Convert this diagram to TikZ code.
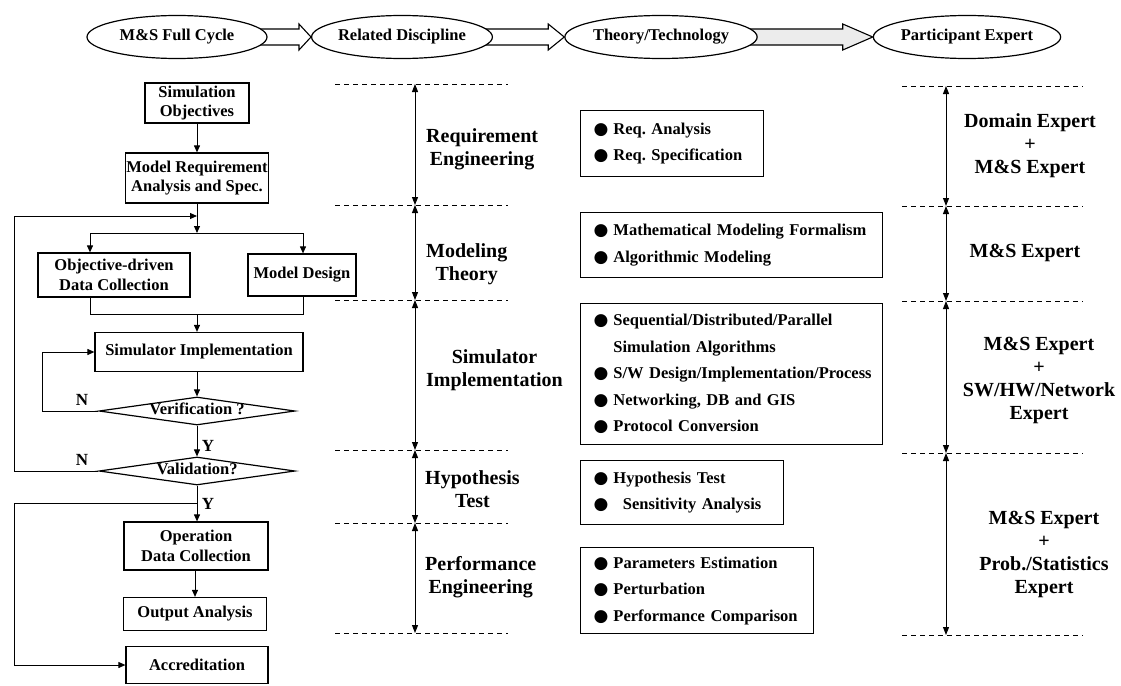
\documentclass[tikz,border=0pt]{standalone}
\usepackage{fontspec}
\setmainfont{Liberation Serif}
\newfontfamily\dotfont{DejaVu Sans}
\usepackage{tikz}
\usetikzlibrary{arrows.meta, positioning, shapes.geometric, calc, backgrounds}
\newcommand{\sfnt}{\fontsize{16.5}{19.5}\selectfont\bfseries}
\newcommand{\lfnt}{\fontsize{20}{23}\selectfont\bfseries}
\newcommand{\listfnt}{\fontsize{16.5}{26.5}\selectfont\bfseries\hyphenpenalty=10000\relax}
\newcommand{\bitem}{{\dotfont\fontsize{17}{17}\selectfont ●}\nobreak\hspace{5pt}}
\newcommand{\bskip}{\phantom{\bitem}}
\frenchspacing

\begin{document}
\begin{tikzpicture}[x=1pt, y=-1pt,
    phase/.style={draw, ellipse, line width=1.2pt, fill=white, minimum height=43pt,
                  inner sep=0pt, font=\sfnt},
    fat/.style={draw, line width=1.1pt, fill=white},
    box/.style={draw, line width=1.2pt, align=center, inner sep=1pt, font=\sfnt},
    test/.style={draw, diamond, aspect=7, line width=1.2pt, inner sep=0pt,
                 text height=7pt, text depth=0pt, minimum width=196pt,
                 minimum height=28pt, font=\sfnt},
    flow/.style={line width=1pt, -{Triangle[length=7pt,width=6pt]}},
    link/.style={line width=1pt},
    yn/.style={font=\fontsize{17}{17}\selectfont\bfseries, inner sep=1pt},
    sep/.style={line width=1pt, dash pattern=on 5pt off 4pt},
    span/.style={line width=1pt, {Triangle[length=8pt,width=6pt]}-{Triangle[length=8pt,width=6pt]}},
    area/.style={font=\lfnt, align=center, inner sep=0pt},
    list/.style={draw, line width=1.2pt, anchor=north west, align=left, inner xsep=13pt,
                 inner ysep=0pt, font=\listfnt}
]
\useasboundingbox (0,0) rectangle (1121,685);

% headline
\node[phase, minimum width=180pt] (hcyc) at (177,37) {M\&S Full Cycle};
\node[phase, minimum width=177pt] (hdis) at (402,37) {Related Discipline};
\node[phase, minimum width=178pt] (htech) at (661,37) {Theory/Technology};
\node[phase, minimum width=187pt] (hexp) at (967,37) {Participant Expert};

\begin{scope}[on background layer]
\foreach \a/\b/\l/\c in {hcyc/hdis/12/white, hdis/htech/16/white, htech/hexp/30/gray!15}
  \draw[fat, fill=\c] ($(\a.east)+(-8,-8)$) -- ($(\b.west)+(-\l,-8)$) -- ($(\b.west)+(-\l,-13)$)
     -- (\b.west) -- ($(\b.west)+(-\l,13)$) -- ($(\b.west)+(-\l,8)$) -- ($(\a.east)+(-8,8)$) -- cycle;
\end{scope}

% M&S full cycle
\node[box, minimum width=104pt, minimum height=40pt] (simobj) at (197,103) {Simulation\\Objectives};
\node[box, minimum width=141pt, minimum height=50pt] (modreq) at (197,178) {Model Requirement\\Analysis and Spec.};
\node[box, minimum width=152pt, minimum height=44pt] (datcol) at (114,275) {Objective-driven\\Data Collection};
\node[box, minimum width=108pt, minimum height=42pt] (moddes) at (302,275) {Model Design};
\node[box, minimum width=208pt, minimum height=39pt] (simimp) at (199,352) {Simulator Implementation};
\node[test] (verif) at (197,411) {Verification ?};
\node[test] (valid) at (197,471) {Validation?};
\node[box, minimum width=144pt, minimum height=48pt] (opdata) at (196,546) {Operation\\Data Collection};
\node[box, minimum width=143pt, minimum height=33pt] (outana) at (195,614) {Output Analysis};
\node[box, minimum width=142pt, minimum height=37pt] (accred) at (197,665) {Accreditation};

\coordinate (join) at (197,216);
\coordinate (fork) at (197,233);
\coordinate (forkl) at (90,233);
\coordinate (forkr) at (303,233);
\coordinate (mrgl) at (90,314);
\coordinate (mrgr) at (303,314);
\coordinate (mrg) at (197,314);
\coordinate (loopv) at (42,0);
\coordinate (loopo) at (14,0);
\coordinate (pass) at (197,503);

\draw[flow] (simobj) -- (modreq);
\draw[link] (modreq.south -| join) -- (join);
\draw[flow] (join) -- (fork);
\draw[link] (forkl) -- (forkr);
\draw[flow] (forkl) -- (forkl |- datcol.north);
\draw[flow] (forkr) -- (forkr |- moddes.north);
\draw[link] (datcol.south -| mrgl) -- (mrgl) -- (mrgr) -- (moddes.south -| mrgr);
\draw[flow] (mrg) -- (mrg |- simimp.north);
\draw[flow] (simimp.south -| verif) -- (verif);
\draw[flow] (verif.west) -- (verif.west -| loopv) |- (simimp.west);
\node[yn] at (82,400) {N};
\draw[flow] (verif) -- (valid);
\node[yn] at (208,446) {Y};
\draw[flow] (valid.west) -- (valid.west -| loopo) |- (join);
\node[yn] at (82,460) {N};
\draw[flow] (valid) -- (valid |- opdata.north);
\draw[flow] (pass) -- (pass -| loopo) |- (accred.west);
\node[yn] at (208,504) {Y};
\draw[flow] (opdata.south -| outana) -- (outana);

% related discipline
\foreach \y [count=\i] in {84,205,300,450,523,633} {
  \draw[sep] (335,\y) -- (508,\y);
  \coordinate (d\i) at (415,\y);
}
\foreach \a/\b in {1/2, 2/3, 3/4, 4/5, 5/6}
  \draw[span] (d\a) -- (d\b);

\node[area, anchor=west] (dreq) at (426,149) {Requirement\\Engineering};
\node[area, anchor=west] (dmod) at (426,264) {Modeling\\Theory};
\node[area, anchor=west] (dsim) at (426,370) {Simulator\\Implementation};
\node[area, anchor=west] (dhyp) at (425,489) {Hypothesis\\Test};
\node[area, anchor=west] (dperf) at (425,577) {Performance\\Engineering};

% theory / technology
\node[list, text width=157pt, minimum height=66pt] (lreq) at (580,110)
  {\bitem Req. Analysis\\\bitem Req. Specification};
\node[list, text width=276pt, minimum height=65pt] (lmod) at (580,212)
  {\bitem Mathematical Modeling Formalism\\\bitem Algorithmic Modeling};
\node[list, text width=276pt, minimum height=141pt] (lsim) at (580,303)
  {\bitem Sequential/Distributed/Parallel\\\bskip Simulation Algorithms\\
   \mbox{\bitem S/W Design/Implementation/Process}\\\bitem Networking, DB and GIS\\
   \bitem Protocol Conversion};
\node[list, text width=177pt, minimum height=64pt] (lhyp) at (580,460)
  {\bitem Hypothesis Test\\\bitem\hspace{4pt} Sensitivity Analysis};
\node[list, text width=207pt, minimum height=86pt] (lperf) at (580,547)
  {\bitem Parameters Estimation\\\bitem Perturbation\\\bitem Performance Comparison};

% participant expert
\foreach \y [count=\i] in {86,206,301,453,635} {
  \draw[sep] (902,\y) -- (1083,\y);
  \coordinate (e\i) at (946,\y);
}
\foreach \a/\b in {1/2, 2/3, 3/4, 4/5}
  \draw[span] (e\a) -- (e\b);

\node[area] (xreq) at (1030,146) {Domain Expert\\+\\M\&S Expert};
\node[area] (xmod) at (1025,253) {M\&S Expert};
\node[area] (xsim) at (1039,380) {M\&S Expert\\+\\SW/HW/Network\\Expert};
\node[area] (xprob) at (1044,554) {M\&S Expert\\+\\Prob./Statistics\\Expert};
\end{tikzpicture}
\end{document}
